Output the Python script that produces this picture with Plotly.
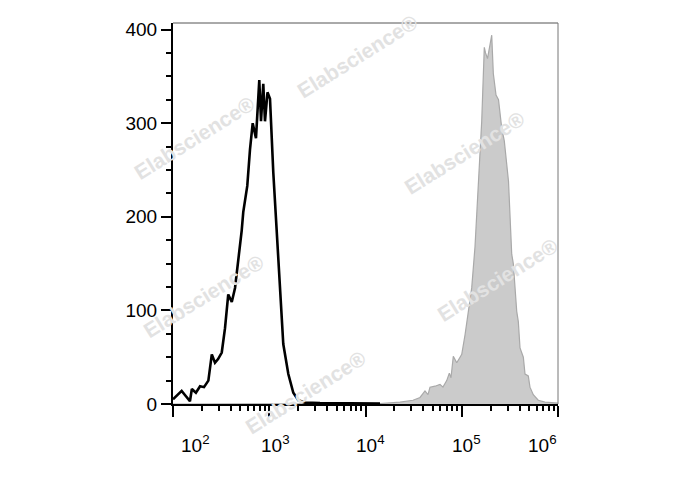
import math
import plotly.graph_objects as go

# ---- data (fluorescence intensity vs cell count) ----
control_x = [100, 110, 123, 137, 150, 157, 173, 191, 210, 233, 253, 273, 294, 321, 347,
             375, 408, 441, 477, 517, 537, 591, 631, 673, 728, 788, 821, 867, 903, 959,
             1018, 1102, 1195, 1271, 1399, 1578, 1778, 2004, 2351, 3365, 5433, 8770, 14160]
control_y = [5, 9, 14, 8, 3, 16, 12, 19, 18, 25, 53, 44, 48, 55, 81,
             117, 109, 124, 152, 185, 205, 233, 272, 300, 284, 346, 302, 342, 302, 333,
             326, 247, 185, 138, 64, 32, 12, 4, 1.5, 1, 1, 1, 0.5]

stained_x = [100, 2000, 14160, 22800, 31150, 36850, 41500, 44600, 46800, 52700, 59400, 63800,
             69800, 74300, 77300, 81700, 88700, 96000, 100000, 108200, 117000, 126900,
             137300, 145100, 154800, 161200, 171500, 176600, 185200, 204800, 212800,
             227000, 240900, 260000, 276700, 306000, 330500, 343300, 372500, 387000,
             403000, 436300, 454300, 491300, 511500, 553500, 623700, 732300, 1000000]
stained_y = [0, 0, 0.5, 2, 4, 7, 14, 10, 18, 19, 21, 18,
             25, 33, 28, 51, 44, 50, 53, 74, 97, 124,
             168, 219, 265, 302, 381, 375, 369, 394, 353,
             330, 325, 295, 281, 238, 160, 150, 99, 88,
             60, 50, 32, 30, 18, 10, 4, 2, 1]

x_tick_vals = [100, 1000, 10000, 100000, 1000000]
x_tick_exps = ["2", "3", "4", "5", "6"]
x_label_shift = [22, 6, 5, 5, -16]

watermark_text = "Elabscience®"
watermark_pos = [(0.478, 0.912), (0.057, 0.699), (0.758, 0.660),
                 (0.078, 0.283), (0.844, 0.327), (0.343, 0.031)]

FONT = "Arial, Liberation Sans, sans-serif"

fig = go.Figure()
fig.add_trace(go.Scatter(
    x=stained_x, y=stained_y, mode="lines", fill="tozeroy",
    line=dict(color="#a9a9a9", width=1.2), fillcolor="#cbcbcb",
    hoverinfo="skip", showlegend=False))
fig.add_trace(go.Scatter(
    x=control_x, y=control_y, mode="lines",
    line=dict(color="#000000", width=2.6),
    hoverinfo="skip", showlegend=False))

for (xp, yp) in watermark_pos:
    fig.add_annotation(x=xp, y=yp, xref="paper", yref="paper", text=watermark_text,
                       showarrow=False, textangle=-32,
                       font=dict(family=FONT, size=21, color="#e2e2e2", weight="bold"),
                       xanchor="center", yanchor="middle")

for v, e, s in zip(x_tick_vals, x_tick_exps, x_label_shift):
    fig.add_annotation(x=math.log10(v), y=0, xref="x", yref="paper",
                       text="10<sup>" + e + "</sup>", showarrow=False,
                       xanchor="center", yanchor="middle", xshift=s, yshift=-40,
                       font=dict(family=FONT, size=19, color="#000000"))

# thin top/right frame
fig.add_shape(type="line", xref="paper", yref="paper", x0=0, x1=1, y0=1, y1=1,
              line=dict(color="#555555", width=1))
fig.add_shape(type="line", xref="paper", yref="paper", x0=1, x1=1, y0=0, y1=1,
              line=dict(color="#777777", width=1))

fig.update_xaxes(type="log", range=[2, 6], showgrid=False, zeroline=False,
                 showline=True, linecolor="#000000", linewidth=2,
                 ticks="outside", ticklen=11, tickwidth=2, tickcolor="#000000",
                 dtick=1, showticklabels=False,
                 minor=dict(ticks="outside", ticklen=5, tickwidth=1.5,
                            tickcolor="#000000", dtick="D1", showgrid=False))
fig.update_yaxes(range=[0, 407], showgrid=False, zeroline=False,
                 showline=True, linecolor="#000000", linewidth=2,
                 ticks="outside", ticklen=10, tickwidth=2, tickcolor="#000000",
                 tickvals=[0, 100, 200, 300, 400],
                 tickfont=dict(family=FONT, size=19, color="#000000"),
                 minor=dict(ticks="outside", ticklen=5, tickwidth=1.5,
                            tickcolor="#000000", dtick=25, showgrid=False))

# page body has an 8px margin, so the figure is sized to fill the window from there
fig.update_layout(width=680, height=482, plot_bgcolor="white", paper_bgcolor="white",
                  margin=dict(l=165, r=130, t=11, b=86), showlegend=False,
                  font=dict(family=FONT))

fig.write_html("out.html")
